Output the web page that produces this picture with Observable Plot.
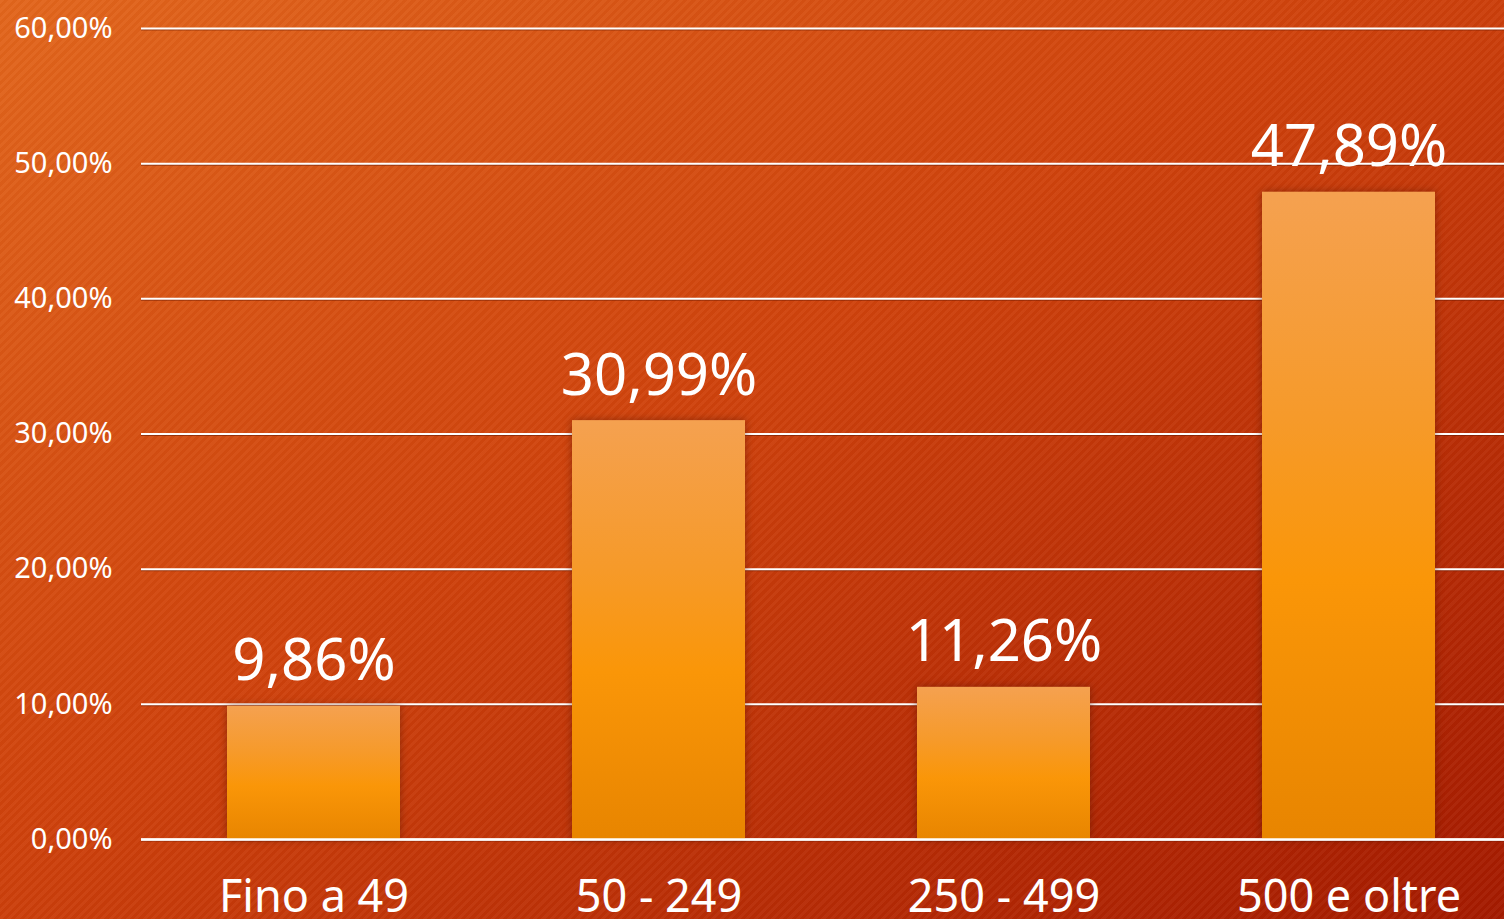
<!DOCTYPE html>
<html>
<head>
<meta charset="utf-8">
<script src="https://cdn.jsdelivr.net/npm/d3@7"></script>
<script src="https://cdn.jsdelivr.net/npm/@observablehq/plot@0.6"></script>
<style>
  html, body { margin: 0; padding: 0; width: 1504px; height: 919px; overflow: hidden; }
  body {
    background:
      repeating-linear-gradient(-45deg, rgba(255,255,255,0.035) 0px, rgba(255,255,255,0.035) 3px, rgba(0,0,0,0.02) 3px, rgba(0,0,0,0.02) 6px),
      linear-gradient(to bottom right, #e2661c 0%, #cf420c 45%, #a41a00 100%);
    font-family: "Noto Sans", sans-serif;
  }
  #chart svg { display: block; background: transparent; }
  .bars rect { filter: drop-shadow(0px 0px 4px rgba(90, 20, 0, 0.55)); }
  .grid line, .grid path { filter: drop-shadow(0px 1.5px 0.5px rgba(90, 20, 0, 0.5)); }
</style>
</head>
<body>
<div id="chart"></div>
<script>
const categories = ["Fino a 49", "50 - 249", "250 - 499", "500 e oltre"];
const values = [9.86, 30.99, 11.26, 47.89];
const yTicks = [0, 10, 20, 30, 40, 50, 60];

const data = categories.map((c, i) => ({category: c, value: values[i]}));
const fmt = (d) => d.toFixed(2).replace(".", ",") + "%";

const chart = Plot.plot({
  width: 1504,
  height: 919,
  marginLeft: 141,
  marginRight: 0,
  marginTop: 28,
  marginBottom: 80,
  style: {background: "transparent", fontFamily: "Noto Sans, sans-serif", color: "white"},
  x: {domain: categories, range: [141, 1521], paddingInner: 0.5, paddingOuter: 0.25, label: null},
  y: {domain: [0, 60], label: null},
  marks: [
    Plot.gridY(yTicks, {stroke: "white", strokeOpacity: 1, strokeWidth: 2, className: "grid"}),
    Plot.barY(data, {x: "category", y: "value", fill: "url(#barGrad)", className: "bars"}),
    Plot.ruleY([0], {stroke: "white", strokeWidth: 2.5}),
    Plot.axisY(yTicks, {tickSize: 0, tickPadding: 29, tickFormat: fmt, fontSize: 29, fill: "white", label: null}),
    Plot.axisX({tickSize: 0, tickPadding: 41, fontSize: 45, fill: "white", label: null}),
    Plot.text(data, {x: "category", y: "value", text: (d) => fmt(d.value), dy: -26, lineAnchor: "bottom", fontSize: 58, fill: "white"})
  ]
});

const ns = "http://www.w3.org/2000/svg";
const defs = document.createElementNS(ns, "defs");
defs.innerHTML = `
  <linearGradient id="barGrad" x1="0" y1="0" x2="0" y2="1">
    <stop offset="0%" stop-color="#f5a150"/>
    <stop offset="35%" stop-color="#f69a2a"/>
    <stop offset="60%" stop-color="#fa9608"/>
    <stop offset="100%" stop-color="#e88500"/>
  </linearGradient>`;
chart.insertBefore(defs, chart.firstChild);
document.getElementById("chart").appendChild(chart);
</script>
</body>
</html>
